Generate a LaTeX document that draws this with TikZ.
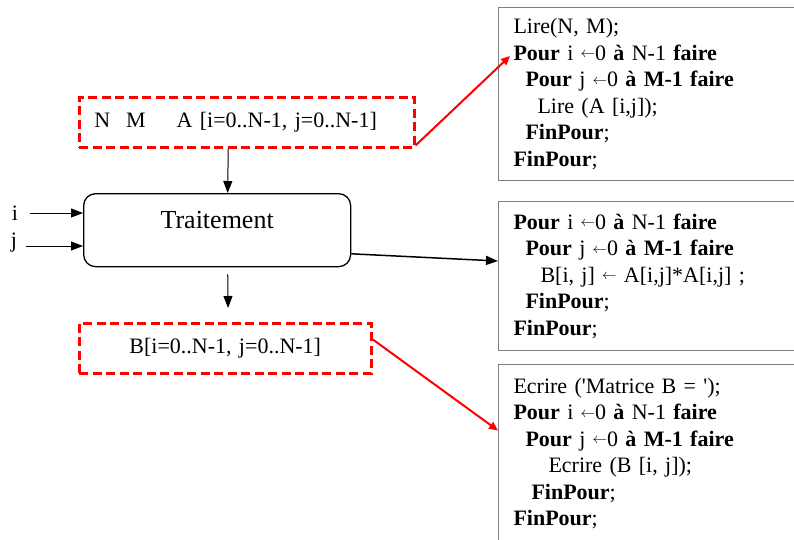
\documentclass[tikz,border=0pt]{standalone}
\usepackage{fontspec}
\setmainfont{Liberation Serif}
\usetikzlibrary{arrows.meta}

\newcommand{\affect}{\raisebox{2.5pt}{\fontsize{15}{15}\selectfont$\leftarrow$}}

\tikzset{
  redbox/.style={draw=red, line width=2.5pt, dash pattern=on 9pt off 4.5pt,
    minimum height=50pt, inner xsep=15pt, anchor=north west,
    font=\fontsize{22}{26.5}\selectfont},
  procbox/.style={draw, line width=1.3pt, rounded corners=12pt, anchor=north west,
    minimum width=267pt, minimum height=73pt, text depth=20pt,
    font=\fontsize{26}{30}\selectfont},
  codebox/.style={draw=gray, line width=1pt, anchor=north west, align=left,
    text width=290pt, inner xsep=15pt, font=\fontsize{22}{26.5}\selectfont},
  blackarrow/.style={line width=1pt, -{Triangle[length=12pt,width=9pt]}},
  redarrow/.style={draw=red, line width=2pt, -{Triangle[length=9pt,width=8pt]}},
  lbl/.style={inner sep=0pt, font=\fontsize{22}{26.5}\selectfont}
}

\begin{document}
\begin{tikzpicture}[x=1pt, y=-1pt]
\useasboundingbox (0,0) rectangle (794,539);
\clip (0,0) rectangle (794,539);

\node[redbox, text width=305pt, align=left] (nm) at (78,96)
  {N\hspace{16pt}M\hspace{31pt}A [i=0..N-1, j=0..N-1]};
\node[procbox] (trait) at (83,193) {Traitement};
\node[redbox, text width=262pt, align=center] (bmat) at (78,322)
  {B[i=0..N-1, j=0..N-1]};

\node[lbl] (lbli) at (15,213) {i};
\node[lbl] (lblj) at (14,243) {j};

\node[codebox, minimum height=173pt] (lire) at (498,7)
  {Lire(N, M);\\
   \textbf{Pour} i \affect0 \textbf{à} N-1 \textbf{faire}\\
   \hspace*{12pt}\textbf{Pour} j \affect0 \textbf{à M-1 faire}\\
   \hspace*{24pt}Lire (A [i,j]);\\
   \hspace*{12pt}\textbf{FinPour};\\
   \textbf{FinPour};};
\node[codebox, minimum height=149pt] (pour) at (498,201)
  {\textbf{Pour} i \affect0 \textbf{à} N-1 \textbf{faire}\\
   \hspace*{12pt}\textbf{Pour} j \affect0 \textbf{à M-1 faire}\\
   \hspace*{27pt}B[i, j] \affect\ A[i,j]*A[i,j] ;\\
   \hspace*{12pt}\textbf{FinPour};\\
   \textbf{FinPour};};
\node[codebox, minimum height=178pt] (ecr) at (498,364)
  {Ecrire (\textquotesingle Matrice B = \textquotesingle);\\
   \textbf{Pour} i \affect0 \textbf{à} N-1 \textbf{faire}\\
   \hspace*{12pt}\textbf{Pour} j \affect0 \textbf{à M-1 faire}\\
   \hspace*{35pt}Ecrire (B [i, j]);\\
   \hspace*{18pt}\textbf{FinPour};\\
   \textbf{FinPour};};

\draw[blackarrow] ([xshift=-18.5pt]nm.south) -- ([xshift=10.5pt]trait.north);
\draw[blackarrow, shorten <=7pt, shorten >=14pt] ([xshift=10.5pt]trait.south) -- ([xshift=3pt]bmat.north);
\draw[blackarrow, shorten <=12pt] (lbli) -- (lbli -| trait.west);
\draw[blackarrow, shorten <=12pt] ([yshift=-3pt]lblj.center) -- ([yshift=-3pt]lblj.center -| trait.west);
\draw[blackarrow, line width=1.5pt] (trait.-10) -- ([yshift=15pt]pour.west);

\draw[redarrow] ([yshift=3pt]nm.south east) -- ([xshift=12pt,yshift=38pt]lire.west);
\draw[redarrow] ([yshift=9pt]bmat.east) -- ([yshift=23pt]ecr.west);
\end{tikzpicture}
\end{document}
